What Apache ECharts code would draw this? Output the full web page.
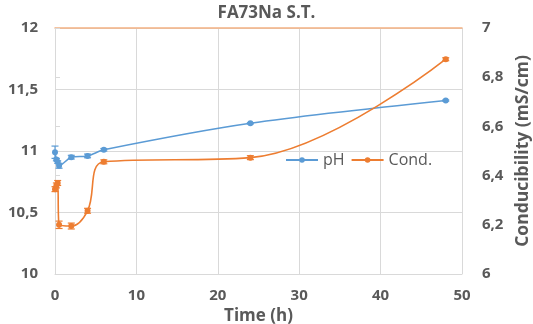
<!DOCTYPE html>
<html><head><meta charset="utf-8">
<script src="https://cdn.jsdelivr.net/npm/echarts@6/dist/echarts.min.js"></script>
<style>html,body{margin:0;padding:0;background:#fff}#c{width:533px;height:324px}</style>
</head><body><div id="c"></div>
<script>
const phTime = [0, 0.17, 0.33, 0.5, 2, 4, 6, 24, 48];
const phValues = [10.99, 10.93, 10.91, 10.88, 10.95, 10.96, 11.01, 11.225, 11.41];
const phErr = [0.05, 0.01, 0.01, 0.02, 0.015, 0.015, 0.01, 0.005, 0.005];
const condTime = [0, 0.17, 0.33, 0.5, 2, 4, 6, 24, 48];
const condValues = [6.345, 6.36, 6.37, 6.2, 6.195, 6.257, 6.456, 6.473, 6.873];
const condErr = [0.01, 0.01, 0.01, 0.015, 0.012, 0.01, 0.008, 0.008, 0.006];
const xTicks = [0, 10, 20, 30, 40, 50];

const BLUE = '#5B9BD5', ORANGE = '#ED7D31', TXT = '#595959', GRID = '#D9D9D9';
const FONT = 'Open Sans';
const fmt = v => String(+v.toFixed(2)).replace('.', ',');

function errSeries(times, vals, errs, color, yIdx) {
  return {
    type: 'custom', yAxisIndex: yIdx, z: 1, silent: true,
    data: times.map((t, i) => [t, vals[i] - errs[i], vals[i] + errs[i]]),
    renderItem: function (params, api) {
      const lo = api.coord([api.value(0), api.value(1)]);
      const hi = api.coord([api.value(0), api.value(2)]);
      const w = 3.5;
      const st = { stroke: color, lineWidth: 1.2 };
      return { type: 'group', children: [
        { type: 'line', shape: { x1: lo[0], y1: lo[1], x2: hi[0], y2: hi[1] }, style: st },
        { type: 'line', shape: { x1: lo[0] - w, y1: lo[1], x2: lo[0] + w, y2: lo[1] }, style: st },
        { type: 'line', shape: { x1: hi[0] - w, y1: hi[1], x2: hi[0] + w, y2: hi[1] }, style: st }
      ]};
    }
  };
}

const chart = echarts.init(document.getElementById('c'));
chart.setOption({
  animation: false,
  textStyle: { fontFamily: FONT },
  title: { text: 'FA73Na S.T.', left: 'center', top: 0,
    textStyle: { fontFamily: FONT, fontSize: 17, fontWeight: 'bold', color: TXT } },
  legend: {
    left: 280, top: 147, itemGap: 6, itemWidth: 32, itemHeight: 7,
    textStyle: { fontFamily: FONT, fontSize: 16, color: TXT },
    data: ['pH', 'Cond.']
  },
  grid: { left: 55, right: 71, top: 28, bottom: 50, containLabel: false, outerBoundsMode: 'none' },
  xAxis: [{
    type: 'value', min: 0, max: 50, interval: 10,
    name: 'Time (h)', nameLocation: 'middle', nameGap: 30,
    nameTextStyle: { fontFamily: FONT, fontSize: 17, fontWeight: 'bold', color: TXT },
    axisLine: { show: true, lineStyle: { color: GRID, width: 1 } },
    axisTick: { show: false },
    axisLabel: { fontFamily: FONT, fontSize: 15, fontWeight: 'bold', color: TXT, margin: 14,
      customValues: xTicks },
    splitLine: { show: true, lineStyle: { color: GRID } }
  }, {
    type: 'value', min: 0, max: 50, position: 'top',
    axisLine: { show: true, lineStyle: { color: '#F4B183', width: 1.5 } },
    axisTick: { show: false }, axisLabel: { show: false }, splitLine: { show: false }
  }],
  yAxis: [{
    type: 'value', min: 10, max: 12, interval: 0.5, position: 'left',
    name: 'pH', nameLocation: 'middle', nameGap: 40, nameRotate: 90,
    nameTextStyle: { fontFamily: FONT, fontSize: 17, fontWeight: 'bold', color: TXT },
    axisLine: { show: true, lineStyle: { color: GRID } },
    axisTick: { show: false },
    axisLabel: { fontFamily: FONT, fontSize: 15, fontWeight: 'bold', color: TXT, margin: 17, formatter: fmt },
    splitLine: { show: true, lineStyle: { color: GRID } }
  }, {
    type: 'value', min: 6, max: 7, interval: 0.2, position: 'right',
    name: 'Conducibility (mS/cm)', nameLocation: 'middle', nameGap: 47, nameRotate: 90,
    nameTextStyle: { fontFamily: FONT, fontSize: 17.5, fontWeight: 'bold', color: TXT },
    axisLine: { show: true, lineStyle: { color: 'rgba(0,0,0,0)' } },
    axisTick: { show: true, length: 5, lineStyle: { color: GRID } },
    axisLabel: { fontFamily: FONT, fontSize: 15, fontWeight: 'bold', color: TXT, margin: 20, formatter: fmt },
    splitLine: { show: false }
  }],
  series: [
    errSeries(phTime, phValues, phErr, BLUE, 0),
    errSeries(condTime, condValues, condErr, ORANGE, 1),
    {
      name: 'pH', type: 'line', yAxisIndex: 0, smooth: 0.3,
      data: phTime.map((t, i) => [t, phValues[i]]),
      symbol: 'circle', symbolSize: 6,
      lineStyle: { color: BLUE, width: 1.6 }, itemStyle: { color: BLUE }
    },
    {
      name: 'Cond.', type: 'line', yAxisIndex: 1, smooth: 0.38,
      data: condTime.map((t, i) => [t, condValues[i]]),
      symbol: 'circle', symbolSize: 6,
      lineStyle: { color: ORANGE, width: 1.6 }, itemStyle: { color: ORANGE }
    }
  ]
});
</script></body></html>
